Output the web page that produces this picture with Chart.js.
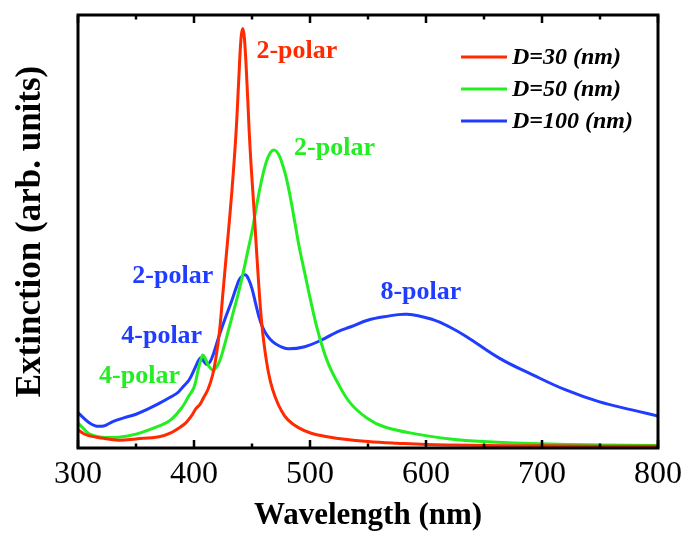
<!DOCTYPE html>
<html><head><meta charset="utf-8">
<script src="https://cdn.jsdelivr.net/npm/chart.js@4.4.0/dist/chart.umd.min.js"></script>
<style>html,body{margin:0;padding:0;background:#fff;}#wrap{width:689px;height:547px;}</style>
</head><body><div id="wrap"><canvas id="c" width="689" height="547"></canvas></div>
<script>
// ---- data ----
const seriesLabels = ['D=30 (nm)', 'D=50 (nm)', 'D=100 (nm)'];
const xTickValues = [300, 400, 500, 600, 700, 800];

const wl30  = [300,305,310,320,335,350,370,380,388,393,398,402,405,408,412,416,419,422,425,428,431,434,436.5,438.5,440.5,442,443.5,445.6,448.4,452,455,458.5,462.5,466,470,475,481,490,501,515,530,550,575,600,650,700,750,800];
const ext30 = [0.042,0.033,0.028,0.023,0.018,0.021,0.026,0.035,0.048,0.058,0.075,0.092,0.100,0.115,0.135,0.168,0.21,0.27,0.36,0.45,0.54,0.64,0.74,0.846,0.945,0.969,0.945,0.846,0.69,0.54,0.41,0.285,0.2,0.152,0.118,0.088,0.065,0.047,0.034,0.026,0.020,0.015,0.011,0.008,0.006,0.005,0.004,0.004];

const wl50  = [300,305,310,320,335,350,370,380,390,395,400,403.5,406,407.7,410,413,417,422,426,430,434,438,442,446,450,454,458,462,466,469.5,473,476,479,483,487,491,495.5,501,507,515,524,535,549.6,563.8,592,620.7,649,706,750,800];
const ext50 = [0.058,0.044,0.032,0.025,0.025,0.032,0.051,0.065,0.095,0.118,0.14,0.18,0.205,0.215,0.205,0.188,0.18,0.2,0.235,0.275,0.315,0.355,0.4,0.45,0.5,0.56,0.615,0.658,0.683,0.688,0.678,0.657,0.63,0.58,0.52,0.46,0.404,0.335,0.268,0.2,0.15,0.103,0.068,0.049,0.032,0.021,0.015,0.009,0.007,0.006];

const wl100  = [300,305,310,315,318,322,325,330,340,350,360,370,380,386,390,395.7,401.4,404.5,406.5,408.5,411.4,415,421.4,427,432.8,437,440,444.2,447,450,453,456,459,463,468,474,481,495.5,509.7,524,535.3,549.6,563.8,583.8,606.6,620,635,663.5,692,720.5,749,777.5,800];
const ext100 = [0.082,0.069,0.058,0.051,0.05,0.051,0.054,0.061,0.07,0.078,0.09,0.103,0.118,0.128,0.14,0.157,0.188,0.205,0.208,0.2,0.193,0.205,0.257,0.3,0.342,0.375,0.393,0.4,0.39,0.368,0.335,0.303,0.28,0.26,0.245,0.235,0.229,0.234,0.249,0.269,0.28,0.295,0.303,0.309,0.296,0.28,0.257,0.207,0.169,0.134,0.107,0.088,0.074];

// annotation texts
const annoTexts = ['2-polar','2-polar','2-polar','4-polar','4-polar','8-polar'];
const annoSeries = [0,1,2,2,1,2];

// ---- styling / layout ----
const colors = ['#ff2a00', '#22ee22', '#1f3cff'];
const annoPos = [ // left edge wavelength, middle value
  [453.8, 0.917], [486.3, 0.693], [346.8, 0.397], [337.3, 0.259], [318.2, 0.166], [560.7, 0.36]
];
const SERIF = '"Liberation Serif", "Times New Roman", serif';

function pts(xs, ys){ return xs.map((x,i)=>({x:x, y:ys[i]})); }

const overlay = {
  id: 'overlay',
  afterDatasetsDraw(chart){
    const {ctx, chartArea:a, scales:{x, y}} = chart;
    ctx.save();
    // ticks (inward, bottom & top)
    ctx.strokeStyle = '#000';
    ctx.lineWidth = 2.5;
    ctx.beginPath();
    xTickValues.forEach((v, i) => {
      const vals = [v];
      if (i < xTickValues.length - 1) vals.push((v + xTickValues[i+1]) / 2);
      vals.forEach((t, k) => {
        const px = x.getPixelForValue(t);
        const L = k === 0 ? 8 : 4.5;
        ctx.moveTo(px, a.bottom); ctx.lineTo(px, a.bottom - L);
        ctx.moveTo(px, a.top); ctx.lineTo(px, a.top + L);
      });
    });
    ctx.stroke();
    // frame
    ctx.lineWidth = 3;
    ctx.strokeRect(a.left, a.top, a.right - a.left, a.bottom - a.top);
    // annotations
    ctx.font = 'bold 26px ' + SERIF;
    ctx.textAlign = 'left';
    ctx.textBaseline = 'middle';
    annoTexts.forEach((t, i) => {
      ctx.fillStyle = colors[annoSeries[i]];
      ctx.fillText(t, x.getPixelForValue(annoPos[i][0]), y.getPixelForValue(annoPos[i][1]));
    });
    // legend
    ctx.font = 'italic bold 24px ' + SERIF;
    chart.data.datasets.forEach((ds, i) => {
      const ly = 57 + i * 32;
      ctx.strokeStyle = ds.borderColor;
      ctx.lineWidth = 3;
      ctx.beginPath(); ctx.moveTo(461, ly); ctx.lineTo(507, ly); ctx.stroke();
      ctx.fillStyle = '#000';
      ctx.fillText(ds.label, 512, ly + 1);
    });
    ctx.restore();
  }
};

new Chart(document.getElementById('c'), {
  type: 'line',
  data: {
    datasets: [
      {label: seriesLabels[0], data: pts(wl30, ext30)},
      {label: seriesLabels[1], data: pts(wl50, ext50)},
      {label: seriesLabels[2], data: pts(wl100, ext100)}
    ].map((d, i) => Object.assign(d, {
      borderColor: colors[i], backgroundColor: colors[i], borderWidth: 3,
      pointRadius: 0, tension: 0.4, borderJoinStyle: 'round', borderCapStyle: 'round', fill: false
    }))
  },
  options: {
    responsive: false, animation: false, devicePixelRatio: 1,
    layout: {padding: {top: 15, right: 26, left: 0, bottom: 0}},
    plugins: {legend: {display: false}, tooltip: {enabled: false}},
    scales: {
      x: {
        type: 'linear', min: 300, max: 800,
        afterBuildTicks: s => { s.ticks = xTickValues.map(v => ({value: v})); },
        afterFit: s => { s.height = 99; },
        grid: {display: false, drawTicks: false}, border: {display: false},
        ticks: {color: '#000', padding: 7, font: {family: SERIF, size: 32, lineHeight: 1.2}},
        title: {display: true, text: 'Wavelength (nm)', color: '#000',
          font: {family: SERIF, size: 31, weight: 'bold', lineHeight: 1.2}, padding: {top: 0, bottom: 12}}
      },
      y: {
        type: 'linear', min: 0, max: 1,
        afterFit: s => { s.width = 78; },
        grid: {display: false, drawTicks: false}, border: {display: false},
        ticks: {display: false},
        title: {display: true, text: 'Extinction (arb. units)', color: '#000',
          font: {family: SERIF, size: 35, weight: 'bold', lineHeight: 1.2}, padding: {top: 10, bottom: 0}}
      }
    }
  },
  plugins: [overlay]
});
</script></body></html>
